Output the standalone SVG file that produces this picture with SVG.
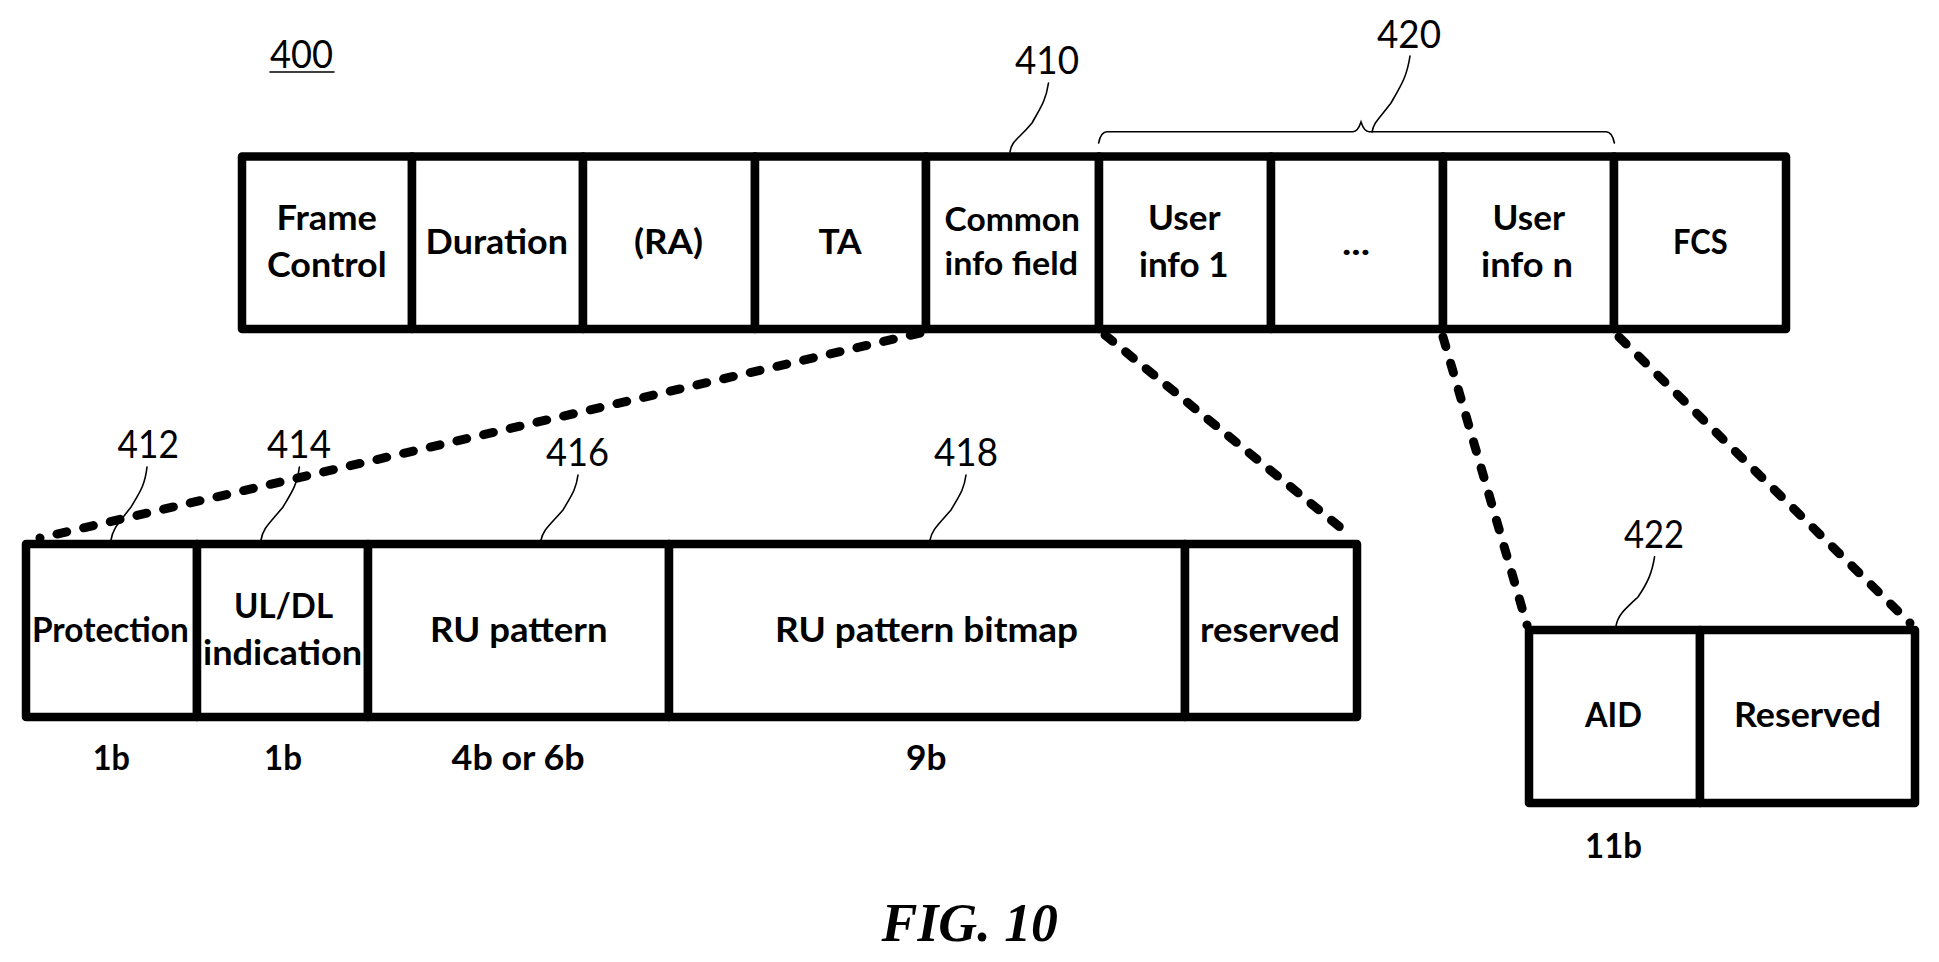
<svg xmlns="http://www.w3.org/2000/svg" width="1939" height="962" viewBox="0 0 1939 962">
<style>
.c{fill:#fff;stroke:#000;stroke-width:8.5;stroke-linejoin:round}
.t{font-family:"Lato","Carlito","Open Sans",sans-serif;font-weight:700;font-size:35px;fill:#000}
.s{font-size:32px}
.n{font-family:"Lato","Carlito","Open Sans",sans-serif;font-weight:400;font-size:38px;fill:#000}
.l{fill:none;stroke:#000;stroke-width:1.6;stroke-linecap:round}
.d{fill:none;stroke:#000;stroke-width:9;stroke-linecap:round}
.f{font-family:"Liberation Serif","Times New Roman",serif;font-weight:700;font-style:italic;font-size:54px;fill:#000}
</style>
<rect width="1939" height="962" fill="#fff"/>
<g id="frame-control"><rect class="c" x="242" y="156.5" width="170" height="172.5"/><text class="t" x="276.5" y="230" textLength="100.5" lengthAdjust="spacingAndGlyphs">Frame</text><text class="t" x="267" y="276.7" textLength="119.6" lengthAdjust="spacingAndGlyphs">Control</text></g>
<g id="duration"><rect class="c" x="412" y="156.5" width="171" height="172.5"/><text class="t" x="425.6" y="254" textLength="142.4" lengthAdjust="spacingAndGlyphs">Duration</text></g>
<g id="ra"><rect class="c" x="583" y="156.5" width="172" height="172.5"/><text class="t" x="634" y="254" textLength="69" lengthAdjust="spacingAndGlyphs">(RA)</text></g>
<g id="ta"><rect class="c" x="755" y="156.5" width="171" height="172.5"/><text class="t" x="818.4" y="254" textLength="43.3" lengthAdjust="spacingAndGlyphs">TA</text></g>
<g id="common-info"><rect class="c" x="926" y="156.5" width="173" height="172.5"/><text class="t s" x="944.6" y="231" textLength="135.4" lengthAdjust="spacingAndGlyphs">Common</text><text class="t s" x="944.6" y="275" textLength="133.4" lengthAdjust="spacingAndGlyphs">info field</text></g>
<g id="user-info-1"><rect class="c" x="1099" y="156.5" width="172" height="172.5"/><text class="t" x="1148" y="230" textLength="72.5" lengthAdjust="spacingAndGlyphs">User</text><text class="t" x="1139" y="277" textLength="89.5" lengthAdjust="spacingAndGlyphs">info 1</text></g>
<g id="user-info-dots"><rect class="c" x="1271" y="156.5" width="172" height="172.5"/><text class="t" x="1342" y="255" textLength="28" lengthAdjust="spacingAndGlyphs">...</text></g>
<g id="user-info-n"><rect class="c" x="1443" y="156.5" width="171" height="172.5"/><text class="t" x="1492.6" y="230" textLength="72.4" lengthAdjust="spacingAndGlyphs">User</text><text class="t" x="1481" y="277" textLength="92" lengthAdjust="spacingAndGlyphs">info n</text></g>
<g id="fcs"><rect class="c" x="1614" y="156.5" width="172" height="172.5"/><text class="t" x="1673" y="254" textLength="54.6" lengthAdjust="spacingAndGlyphs">FCS</text></g>

<g id="protection"><rect class="c" x="26" y="544" width="171" height="173"/><text class="t" x="32" y="641.5" textLength="156.7" lengthAdjust="spacingAndGlyphs">Protection</text><text class="t" x="92.8" y="770" textLength="37.2" lengthAdjust="spacingAndGlyphs">1b</text></g>
<g id="ul-dl"><rect class="c" x="197" y="544" width="171" height="173"/><text class="t" x="234" y="618" textLength="99" lengthAdjust="spacingAndGlyphs">UL/DL</text><text class="t" x="203" y="665" textLength="159" lengthAdjust="spacingAndGlyphs">indication</text><text class="t" x="264" y="770" textLength="38" lengthAdjust="spacingAndGlyphs">1b</text></g>
<g id="ru-pattern"><rect class="c" x="368" y="544" width="301" height="173"/><text class="t" x="430" y="641.7" textLength="177.5" lengthAdjust="spacingAndGlyphs">RU pattern</text><text class="t" x="451.6" y="770" textLength="133" lengthAdjust="spacingAndGlyphs">4b or 6b</text></g>
<g id="ru-bitmap"><rect class="c" x="669" y="544" width="516" height="173"/><text class="t" x="775" y="641.7" textLength="303" lengthAdjust="spacingAndGlyphs">RU pattern bitmap</text><text class="t" x="906" y="770" textLength="40.5" lengthAdjust="spacingAndGlyphs">9b</text></g>
<g id="reserved-lower"><rect class="c" x="1185" y="544" width="172" height="173"/><text class="t" x="1200" y="641.7" textLength="140" lengthAdjust="spacingAndGlyphs">reserved</text></g>

<g id="aid"><rect class="c" x="1529" y="630" width="171" height="173"/><text class="t" x="1585" y="727" textLength="57" lengthAdjust="spacingAndGlyphs">AID</text><text class="t" x="1585" y="858" textLength="57" lengthAdjust="spacingAndGlyphs">11b</text></g>
<g id="reserved-right"><rect class="c" x="1700" y="630" width="215" height="173"/><text class="t" x="1734" y="727" textLength="147" lengthAdjust="spacingAndGlyphs">Reserved</text></g>

<g id="connectors">
<path class="d" stroke-dasharray="10 17.38" d="M920 333L40 538"/>
<path class="d" stroke-dasharray="10 16.6" d="M1105 335L1352 537"/>
<path class="d" stroke-dasharray="10 17.27" d="M1443 337L1527 625"/>
<path class="d" stroke-dasharray="10 17.2" d="M1619 337L1910 623"/>
<path class="l" d="M1048.5 83C1046 100 1041 107 1032 123C1018 140 1012 140 1010 152"/>
<path class="l" d="M1410 56C1407 76 1402 84 1391 103C1378 120 1374 122 1372 132"/>
<path class="l" d="M1098.6 143C1100 136 1102 131.7 1107 131.7L1353 131.7C1357 131.7 1359 128 1361 122C1363 128 1365 131.7 1369 131.7L1606 131.7C1611 131.7 1613 136 1614.4 143"/>
<path class="l" d="M147 467C145 485 140 492 131 507C118 524 113 528 111 540"/>
<path class="l" d="M299.4 467C297 485 292 492 283 507C269 524 263 528 261 540"/>
<path class="l" d="M578 475C576 490 571 496 563 510C549 526 543 530 541 540"/>
<path class="l" d="M966 475C964 490 959 496 951 510C937 526 932 530 930 540"/>
<path class="l" d="M1654.6 556.7C1652 573 1648 582 1638 597C1624 610 1618 615 1616 626"/>
</g>

<g id="ref-400"><text class="n" x="270" y="68" textLength="63" lengthAdjust="spacingAndGlyphs">400</text><path class="l" d="M270 72H334"/></g>
<g id="ref-410"><text class="n" x="1015" y="74" textLength="64" lengthAdjust="spacingAndGlyphs">410</text></g>
<g id="ref-420"><text class="n" x="1377" y="48" textLength="64" lengthAdjust="spacingAndGlyphs">420</text></g>
<g id="ref-412"><text class="n" x="117.5" y="458" textLength="61.5" lengthAdjust="spacingAndGlyphs">412</text></g>
<g id="ref-414"><text class="n" x="267" y="458" textLength="64" lengthAdjust="spacingAndGlyphs">414</text></g>
<g id="ref-416"><text class="n" x="546" y="465.5" textLength="63" lengthAdjust="spacingAndGlyphs">416</text></g>
<g id="ref-418"><text class="n" x="934" y="465.5" textLength="64" lengthAdjust="spacingAndGlyphs">418</text></g>
<g id="ref-422"><text class="n" x="1624" y="548" textLength="60" lengthAdjust="spacingAndGlyphs">422</text></g>
<text class="f" x="881.5" y="940.7" textLength="176.5" lengthAdjust="spacingAndGlyphs">FIG. 10</text>
</svg>
